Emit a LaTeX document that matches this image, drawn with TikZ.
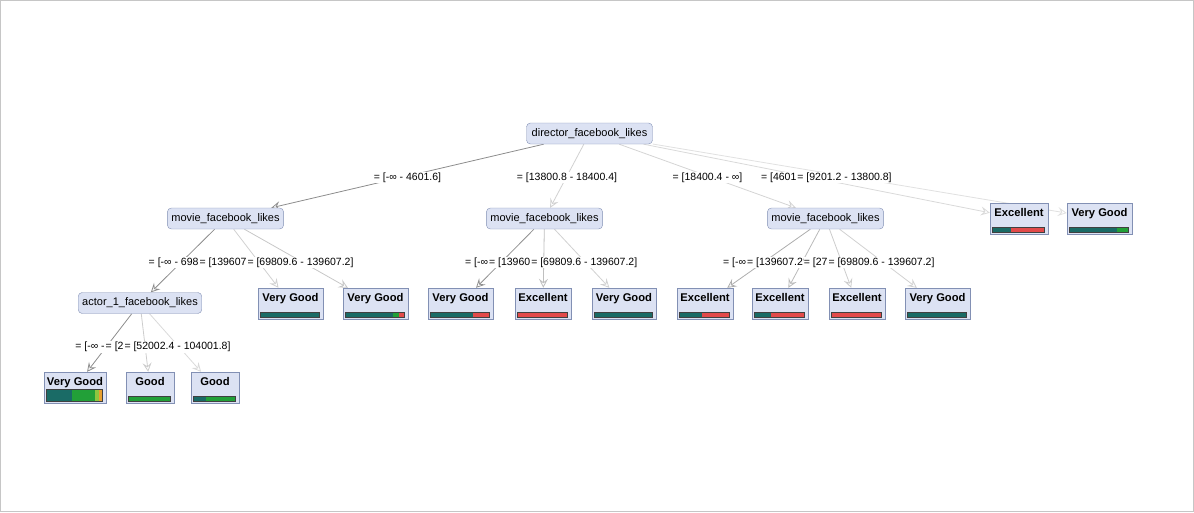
\documentclass[tikz,border=0pt]{standalone}
\usepackage{fontspec}
\setmainfont{Liberation Sans}
\usetikzlibrary{arrows.meta,calc}
\definecolor{boxfill}{HTML}{DCE2F3}
\definecolor{boxline}{HTML}{8290B4}
\definecolor{teal1}{HTML}{1A6B66}
\definecolor{green1}{HTML}{22A038}
\definecolor{lgreen}{HTML}{8CC63F}
\definecolor{orange1}{HTML}{E8A030}
\definecolor{red1}{HTML}{E24A4A}
\pgfdeclarelayer{bg}
\pgfsetlayers{bg,main}
\tikzset{
 attr/.style={draw=boxline, fill=boxfill, rounded corners=4pt, minimum height=21pt, inner xsep=4pt, inner ysep=0pt, font=\fontsize{11}{13}\selectfont},
 leaf/.style={draw=boxline, fill=boxfill, minimum height=31pt, inner xsep=0pt, inner ysep=3pt, text height=10pt, text depth=15pt, font=\fontsize{11.2}{13}\selectfont\bfseries},
 lab/.style={fill=white, inner xsep=0.3pt, inner ysep=1pt, yshift=-1.5pt, font=\fontsize{10.5}{12}\selectfont},
 frag/.style={fill=white, inner xsep=0.3pt, inner ysep=1pt, font=\fontsize{10.5}{12}\selectfont, anchor=east},
 edge/.style={-{Stealth[open,length=9pt,width=9pt,inset=3.5pt]}, line width=0.8pt},
}
\newcommand{\leafnode}[7][4.5]{%
 \node[leaf, minimum width=#5pt] (#2) at (#3,#4) {#6};
 \pgfmathsetmacro\barw{#5-6}
 \begin{scope}[shift={(#2.south west)}, xshift=3pt, x={(\barw pt,0pt)}, y={(0pt,1pt)}]
   \foreach \cc/\aa/\bb in {#7} {\fill[\cc] (\aa,2) rectangle (\bb,2+#1);}
   \draw[black!75, line width=0.8pt] (0,2) rectangle (1,2+#1);
 \end{scope}}
\begin{document}
\begin{tikzpicture}[x=1pt,y=-1pt]
\useasboundingbox (0,0) rectangle (1194,512);
\draw[gray!45] (0.5,0.5) rectangle (1193.5,511.5);
% attribute nodes
\node[attr, minimum width=126pt] (root) at (589.5,133.5) {director\_facebook\_likes};
\node[attr, minimum width=115pt] (L1) at (225.5,218.5) {movie\_facebook\_likes};
\node[attr, minimum width=115pt] (M1) at (544.5,218.5) {movie\_facebook\_likes};
\node[attr, minimum width=115pt] (R1) at (825.5,218.5) {movie\_facebook\_likes};
\node[attr, minimum width=122pt] (act) at (140,303) {actor\_1\_facebook\_likes};
% leaves
\leafnode{Ex}{1019}{218.5}{58}{Excellent}{teal1/0/0.35,red1/0.35/1}
\leafnode{VGr}{1099.5}{218.5}{65}{Very Good}{teal1/0/0.8,green1/0.8/1}
\leafnode{A}{290.5}{303.5}{65}{Very Good}{teal1/0/1}
\leafnode{B}{375.5}{303.5}{65}{Very Good}{teal1/0/0.8,green1/0.8/0.9,red1/0.9/1}
\leafnode{C}{460.5}{303.5}{65}{Very Good}{teal1/0/0.72,red1/0.72/1}
\leafnode{D}{543}{303.5}{56}{Excellent}{red1/0/1}
\leafnode{E}{624}{303.5}{64}{Very Good}{teal1/0/1}
\leafnode{F}{705}{303.5}{56}{Excellent}{teal1/0/0.45,red1/0.45/1}
\leafnode{G}{780}{303.5}{56}{Excellent}{teal1/0/0.32,red1/0.32/1}
\leafnode{H}{857}{303.5}{56}{Excellent}{red1/0/1}
\leafnode{I}{937.5}{303.5}{65}{Very Good}{teal1/0/1}
\leafnode[12]{J}{75}{387.5}{62}{Very Good}{teal1/0/0.45,green1/0.45/0.86,lgreen/0.86/0.94,orange1/0.94/1}
\leafnode{K}{150}{387.5}{48}{Good}{green1/0/1}
\leafnode{Lf}{215}{387.5}{48}{Good}{teal1/0/0.28,green1/0.28/1}
% edges
\begin{pgfonlayer}{bg}
\draw[edge, black!45] (root) -- (L1);
\draw[edge, black!18] (root) -- (M1);
\draw[edge, black!17] (root) -- (R1);
\draw[edge, black!15] (root) -- (Ex);
\draw[edge, black!12] (root) -- (VGr);
\draw[edge, black!45] (L1) -- (act);
\draw[edge, black!18] (L1) -- (A);
\draw[edge, black!22] (L1) -- (B);
\draw[edge, black!43] (M1) -- (C);
\draw[edge, black!25] (M1) -- (D);
\draw[edge, black!18] (M1) -- (E);
\draw[edge, black!32] (R1) -- (F);
\draw[edge, black!27] (R1) -- (G);
\draw[edge, black!20] (R1) -- (H);
\draw[edge, black!18] (R1) -- (I);
\draw[edge, black!45] (act) -- (J);
\draw[edge, black!20] (act) -- (K);
\draw[edge, black!15] (act) -- (Lf);
\end{pgfonlayer}
% edge labels
\node[lab] (l1a) at ($(root)!.5!(L1)$) {= [-∞ - 4601.6]};
\node[lab] (l1b) at ($(root)!.5!(M1)$) {= [13800.8 - 18400.4]};
\node[lab] (l1c) at ($(root)!.5!(R1)$) {= [18400.4 - ∞]};
\node[lab] (l1e) at ($(root)!.5!(VGr)$) {= [9201.2 - 13800.8]};
\node[frag] (l1d) at (l1e.west) {= [4601};
\node[lab] (l2c) at ($(L1)!.5!(B)$) {= [69809.6 - 139607.2]};
\node[frag] (l2b) at (l2c.west) {= [139607};
\node[frag] (l2a) at (l2b.west) {= [-∞ - 698};
\node[lab] (m2c) at ($(M1)!.5!(E)$) {= [69809.6 - 139607.2]};
\node[frag] (m2b) at (m2c.west) {= [13960};
\node[frag] (m2a) at (m2b.west) {= [-∞};
\node[lab] (r2d) at ($(R1)!.5!(I)$) {= [69809.6 - 139607.2]};
\node[frag] (r2c) at (r2d.west) {= [27};
\node[frag] (r2b) at (r2c.west) {= [139607.2};
\node[frag] (r2a) at (r2b.west) {= [-∞};
\node[lab] (a3c) at ($(act)!.5!(Lf)$) {= [52002.4 - 104001.8]};
\node[frag] (a3b) at (a3c.west) {= [2};
\node[frag] (a3a) at (a3b.west) {= [-∞ -};
\end{tikzpicture}
\end{document}
